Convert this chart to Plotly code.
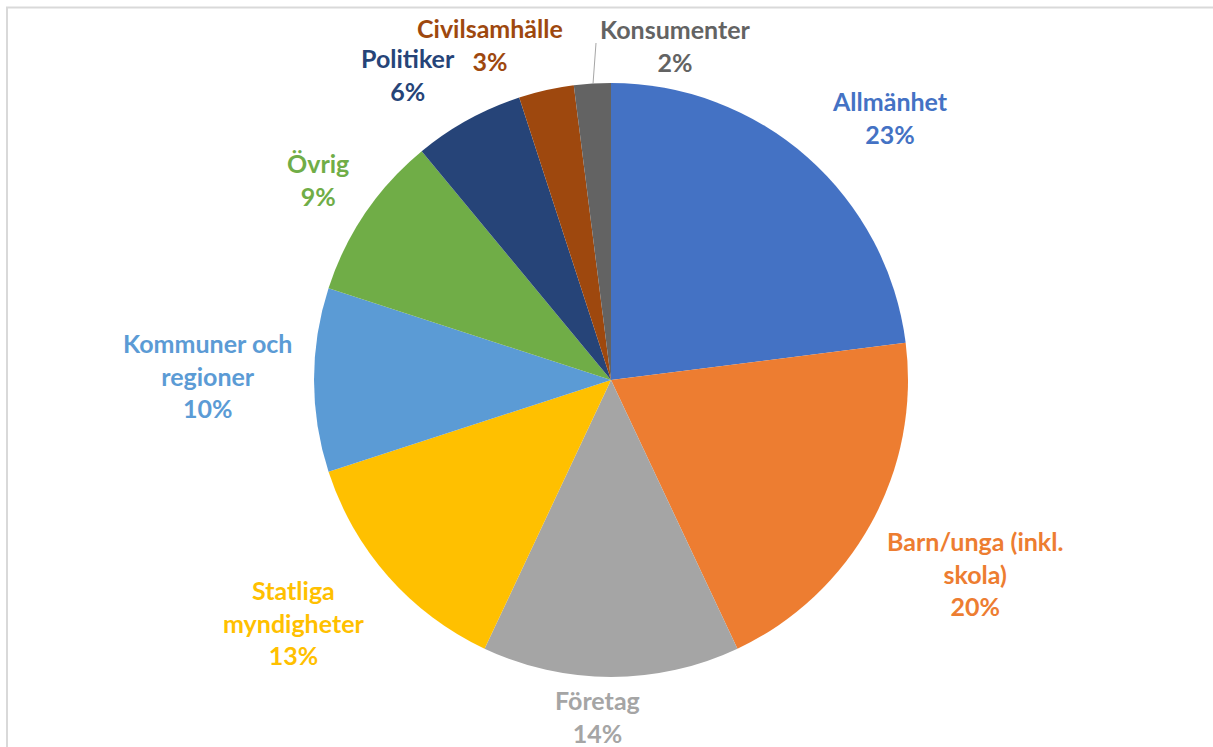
import plotly.graph_objects as go

categories = ["Allmänhet", "Barn/unga (inkl. skola)", "Företag", "Statliga myndigheter",
              "Kommuner och regioner", "Övrig", "Politiker", "Civilsamhälle", "Konsumenter"]
display_labels = ["Allmänhet", "Barn/unga (inkl.<br>skola)", "Företag", "Statliga<br>myndigheter",
                  "Kommuner och<br>regioner", "Övrig", "Politiker", "Civilsamhälle", "Konsumenter"]
values = [23, 20, 14, 13, 10, 9, 6, 3, 2]
colors = ["#4472C4", "#ED7D31", "#A5A5A5", "#FFC000", "#5B9BD5",
          "#70AD47", "#264478", "#9E480E", "#636363"]

# label block centres in pixels (layout only)
label_pos = [(890, 118), (975, 573), (597, 716), (293, 622), (207, 375),
             (318, 179), (408, 74), (490, 45), (675, 46)]

W, H = 1213, 747
cx, cy, r = 611, 380, 297

fig = go.Figure(go.Pie(
    labels=categories,
    values=values,
    textinfo="none",
    marker=dict(colors=colors, line=dict(width=0)),
    sort=False,
    direction="clockwise",
    rotation=0,
    showlegend=False,
    automargin=False,
    hoverinfo="label+percent",
    domain=dict(x=[(cx - r) / W, (cx + r) / W], y=[(H - cy - r) / H, (H - cy + r) / H]),
))

total = sum(values)
annotations = []
for lab, v, col, (px, py) in zip(display_labels, values, colors, label_pos):
    annotations.append(dict(
        xref="paper", yref="paper", x=px / W, y=1 - py / H,
        xanchor="center", yanchor="middle", showarrow=False, align="center",
        text=f"{lab}<br>{v / total * 100:.0f}%",
        font=dict(family="Lato", size=25, color=col, weight="bold"),
    ))

fig.update_layout(
    width=W, height=H,
    margin=dict(l=0, r=0, t=0, b=0, autoexpand=False),
    paper_bgcolor="white",
    plot_bgcolor="white",
    annotations=annotations,
    shapes=[
        dict(type="rect", xref="paper", yref="paper",
             x0=7 / W, x1=1.02, y0=-0.02, y1=1 - 7.5 / H,
             line=dict(color="#D9D9D9", width=2), fillcolor="rgba(0,0,0,0)", layer="below"),
        dict(type="line", xref="paper", yref="paper",
             x0=596 / W, y0=1 - 43 / H, x1=593 / W, y1=1 - 84 / H,
             line=dict(color="#A6A6A6", width=1)),
    ],
)

fig.write_html(
    "out.html",
    config={"displayModeBar": False},
    post_script="document.body.style.margin='0';document.body.style.overflow='hidden';",
)
